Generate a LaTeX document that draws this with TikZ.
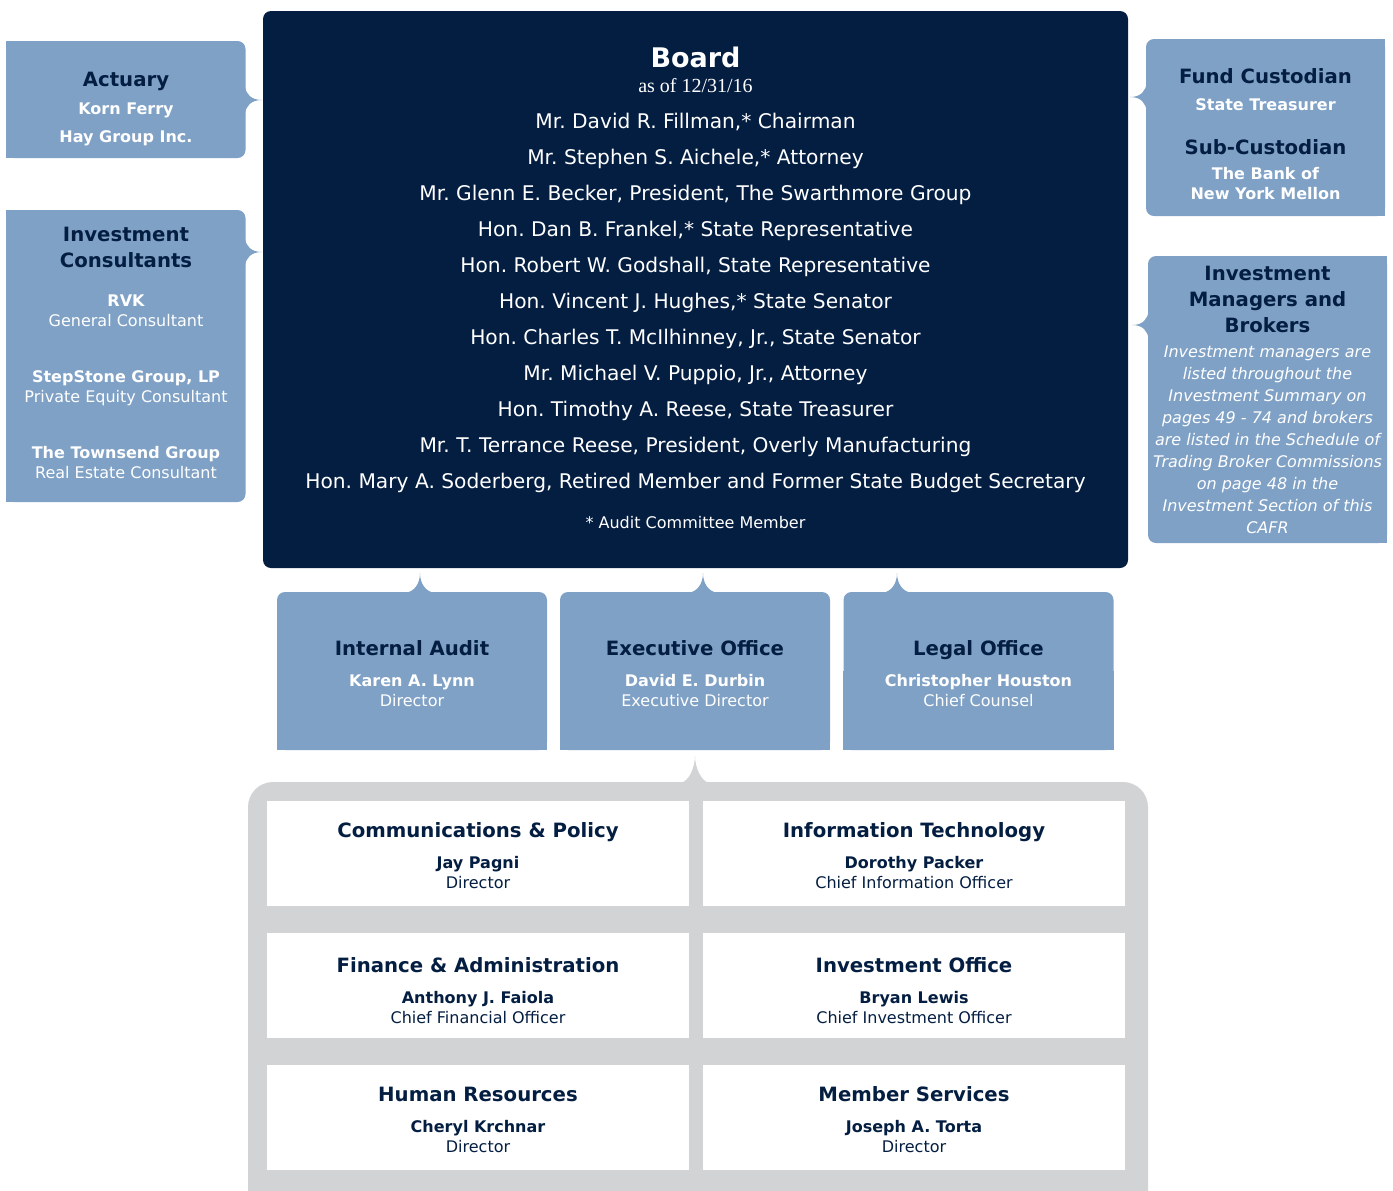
\documentclass[tikz,border=0pt]{standalone}
\usepackage{fontspec}
\setmainfont{DejaVu Sans}
\newfontfamily\asofserif{Liberation Serif}
\usepackage{tikz}
\usetikzlibrary{calc}
\frenchspacing

\definecolor{navy}{RGB}{4,30,66}
\definecolor{steel}{RGB}{127,161,198}
\definecolor{cloud}{RGB}{209,211,212}

\newcommand{\hd}{\fontsize{9.85}{10}\selectfont\bfseries\upshape\color{navy}}
\newcommand{\nm}{\bfseries\upshape}

\newcommand{\notchright}[3]{\fill[#1] ($(#2.east |- #3)+(-1,-14)$) .. controls +(1,8) and +(-11,0) .. (#3) .. controls +(-11,0) and +(1,-8) .. ($(#2.east |- #3)+(-1,14)$) -- cycle;}
\newcommand{\notchleft}[3]{\fill[#1] ($(#2.west |- #3)+(1,-14)$) .. controls +(-1,8) and +(11,0) .. (#3) .. controls +(11,0) and +(-1,-8) .. ($(#2.west |- #3)+(1,14)$) -- cycle;}
\newcommand{\notchup}[3]{\fill[#1] ($(#2.north -| #3)+(-14,1)$) .. controls +(8,-1) and +(0,11) .. (#3) .. controls +(0,11) and +(-8,-1) .. ($(#2.north -| #3)+(14,1)$) -- cycle;}

\begin{document}
\begin{tikzpicture}[x=0.5pt,y=-0.5pt,
	boardbox/.style={fill=navy,rounded corners=4pt,inner sep=0pt,minimum width=432.5pt,minimum height=278.5pt},
	boardtext/.style={text=white,align=center,inner sep=0pt,font=\fontsize{10.1}{18}\selectfont},
	sidebox/.style={fill=steel,rounded corners=4pt,inner sep=0pt,minimum width=119.5pt},
	officebox/.style={fill=steel,rounded corners=4pt,inner sep=0pt,minimum width=135pt,minimum height=79pt},
	bluetext/.style={text=white,align=center,inner sep=0pt,font=\fontsize{8}{10}\selectfont},
	holder/.style={fill=cloud,rounded corners=12.5pt,inner sep=0pt,minimum width=450pt,minimum height=224pt},
	deptbox/.style={fill=white,inner sep=0pt,minimum width=211pt,minimum height=52.5pt},
	depttext/.style={text=navy,align=center,inner sep=0pt,font=\fontsize{8}{10}\selectfont}]
	\useasboundingbox (0,0) rectangle (1393,1190);

	% boxes
	\node[boardbox,name=board] at (695.5,289.5) {};
	\node[sidebox,name=actuary,minimum height=58.5pt] at (126,99.5) {};
	\node[sidebox,name=consultants,minimum height=146pt] at (126,356) {};
	\node[sidebox,name=custodian,minimum height=88.5pt] at (1265.5,127.5) {};
	\node[sidebox,name=managers,minimum height=143.5pt] at (1267.5,399.5) {};
	\node[officebox,name=audit] at (412,671) {};
	\node[officebox,name=executive] at (695,671) {};
	\node[officebox,name=legal] at (978.5,671) {};
	\node[holder,name=staff] at (698,1006) {};
	\node[deptbox,name=comms] at (478,853.5) {};
	\node[deptbox,name=infotech] at (914,853.5) {};
	\node[deptbox,name=finance] at (478,985.5) {};
	\node[deptbox,name=investoffice] at (914,985.5) {};
	\node[deptbox,name=hr] at (478,1117.5) {};
	\node[deptbox,name=members] at (914,1117.5) {};

	% square outer corners
	\foreach \boxname in {actuary,consultants}
		\fill[steel] (\boxname.south west) rectangle (\boxname.north);
	\foreach \boxname in {custodian,managers}
		\fill[steel] (\boxname.south east) rectangle (\boxname.north);
	\foreach \boxname in {audit,executive,legal}
		\fill[steel] (\boxname.south west) rectangle (\boxname.east);

	\notchright{steel}{actuary}{262,100}
	\notchright{steel}{consultants}{262,252}
	\notchleft{steel}{custodian}{1130,97}
	\notchleft{steel}{managers}{1132,325}
	\notchup{steel}{audit}{420,573}
	\notchup{steel}{executive}{703,573}
	\notchup{steel}{legal}{897,573}
	\notchup{cloud}{staff}{695,756}

	\node[boardtext,name=boardText] at ($(board)+(0,-1.5)$) {%
		{\fontsize{13.5}{14}\selectfont\bfseries Board}\\[-5.5pt]
		{\asofserif\fontsize{10}{12}\selectfont as of 12/31/16}\\
		Mr. David R. Fillman,* Chairman\\
		Mr. Stephen S. Aichele,* Attorney\\
		Mr. Glenn E. Becker, President, The Swarthmore Group\\
		Hon. Dan B. Frankel,* State Representative\\
		Hon. Robert W. Godshall, State Representative\\
		Hon. Vincent J. Hughes,* State Senator\\
		Hon. Charles T. McIlhinney, Jr., State Senator\\
		Mr. Michael V. Puppio, Jr., Attorney\\
		Hon. Timothy A. Reese, State Treasurer\\
		Mr. T. Terrance Reese, President, Overly Manufacturing\\
		Hon. Mary A. Soderberg, Retired Member and Former State Budget Secretary\\[2pt]
		{\fontsize{8}{10}\selectfont * Audit Committee Member}};

	% outside advisors
	\node[bluetext,name=actuaryText] at ($(actuary)+(0,10)$) {%
		{\hd Actuary}\\[4pt]
		{\nm Korn Ferry}\\[4pt]
		{\nm Hay Group Inc.}};
	\node[bluetext,name=consultantsText] at ($(consultants)+(0,-3.5)$) {%
		{\hd Investment}\\[3pt]
		{\hd Consultants}\\[9.5pt]
		{\nm RVK}\\
		General Consultant\\[18pt]
		{\nm StepStone Group, LP}\\
		Private Equity Consultant\\[18pt]
		{\nm The Townsend Group}\\
		Real Estate Consultant};
	\node[bluetext,name=custodianText] at ($(custodian)+(0,6.5)$) {%
		{\hd Fund Custodian}\\[3.5pt]
		{\nm State Treasurer}\\[12pt]
		{\hd Sub-Custodian}\\[2.5pt]
		{\nm The Bank of}\\
		{\nm New York Mellon}};
	\node[bluetext,name=managersText,font=\fontsize{8}{11}\selectfont\itshape] at (managers) {%
		{\hd Investment}\\[2pt]
		{\hd Managers and}\\[2pt]
		{\hd Brokers}\\[1.5pt]
		Investment managers are\\
		listed throughout the\\
		Investment Summary on\\
		pages 49 - 74 and brokers\\
		are listed in the Schedule of\\
		Trading Broker Commissions\\
		on page 48 in the\\
		Investment Section of this\\
		CAFR};

	% offices under the board
	\node[bluetext,name=auditText] at ($(audit)+(0,3)$) {%
		{\hd Internal Audit}\\[5.5pt]
		{\nm Karen A. Lynn}\\
		Director};
	\node[bluetext,name=executiveText] at ($(executive)+(0,3)$) {%
		{\hd Executive Office}\\[5.5pt]
		{\nm David E. Durbin}\\
		Executive Director};
	\node[bluetext,name=legalText] at ($(legal)+(0,3)$) {%
		{\hd Legal Office}\\[5.5pt]
		{\nm Christopher Houston}\\
		Chief Counsel};

	% departments
	\node[depttext,name=commsText] at ($(comms)+(0,2)$) {%
		{\hd Communications \& Policy}\\[5.5pt]
		{\nm Jay Pagni}\\
		Director};
	\node[depttext,name=infotechText] at ($(infotech)+(0,2)$) {%
		{\hd Information Technology}\\[5.5pt]
		{\nm Dorothy Packer}\\
		Chief Information Officer};
	\node[depttext,name=financeText] at ($(finance)+(0,5.5)$) {%
		{\hd Finance \& Administration}\\[5.5pt]
		{\nm Anthony J. Faiola}\\
		Chief Financial Officer};
	\node[depttext,name=investofficeText] at ($(investoffice)+(0,5.5)$) {%
		{\hd Investment Office}\\[5.5pt]
		{\nm Bryan Lewis}\\
		Chief Investment Officer};
	\node[depttext,name=hrText] at ($(hr)+(0,2)$) {%
		{\hd Human Resources}\\[5.5pt]
		{\nm Cheryl Krchnar}\\
		Director};
	\node[depttext,name=membersText] at ($(members)+(0,2)$) {%
		{\hd Member Services}\\[5.5pt]
		{\nm Joseph A. Torta}\\
		Director};
\end{tikzpicture}
\end{document}
